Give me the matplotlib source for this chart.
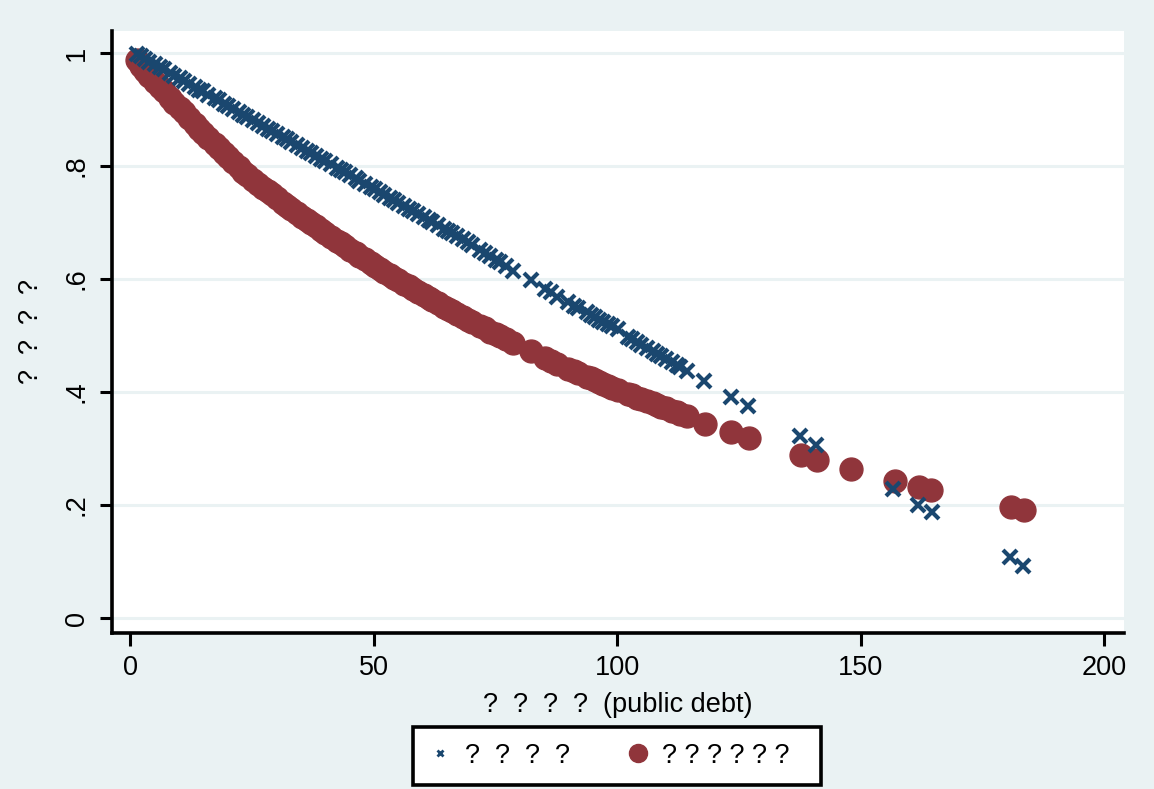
import matplotlib.pyplot as plt
from matplotlib.lines import Line2D

plt.rcParams['font.family'] = ['Liberation Sans', 'DejaVu Sans']

# ---------------------------------------------------------------
# Data
# ---------------------------------------------------------------
# dense part, shared x values (public debt)
debt = [1.4, 2.3, 3.1, 4.0, 5.2, 6.1, 7.0, 8.3, 9.1, 10.2, 11.0, 12.1, 13.3, 14.2,
        15.0, 16.1, 17.4, 18.2, 19.3, 20.1, 21.2, 22.4, 23.3, 24.1, 25.3, 26.2,
        27.4, 28.3, 29.1, 30.2, 31.4, 32.3, 33.1, 34.2, 35.4, 36.3, 37.1, 38.2,
        39.3, 40.1, 41.2, 42.4, 43.3, 44.1, 45.2, 46.3, 47.1, 48.2, 49.4, 50.3,
        51.3, 52.2, 53.4, 54.3, 55.1, 56.2, 57.3, 58.1, 59.2, 60.4, 61.3, 62.1,
        63.2, 64.4, 65.3, 66.1, 67.2, 68.3, 69.4, 70.2, 71.9, 72.8, 74.0, 75.1,
        76.0, 77.2, 78.6, 82.3, 85.2, 86.4, 87.7, 90.0, 91.2, 92.0, 93.8, 94.6,
        95.5, 96.4, 97.2, 98.1, 99.0, 100.2, 102.3, 103.1, 104.2, 105.0, 106.1,
        107.3, 108.2, 109.0, 110.1, 111.2, 112.3, 113.0, 114.4]

blue_y = [0.998, 0.994, 0.990, 0.985, 0.980, 0.975, 0.971, 0.964, 0.960, 0.955,
          0.951, 0.946, 0.940, 0.935, 0.932, 0.926, 0.920, 0.916, 0.910, 0.907,
          0.901, 0.895, 0.891, 0.887, 0.881, 0.877, 0.871, 0.866, 0.862, 0.857,
          0.851, 0.847, 0.843, 0.837, 0.832, 0.827, 0.823, 0.818, 0.812, 0.809,
          0.803, 0.797, 0.793, 0.789, 0.784, 0.778, 0.774, 0.769, 0.763, 0.759,
          0.754, 0.749, 0.743, 0.739, 0.735, 0.730, 0.724, 0.720, 0.715, 0.709,
          0.705, 0.701, 0.695, 0.689, 0.685, 0.681, 0.676, 0.670, 0.665, 0.661,
          0.651, 0.646, 0.640, 0.634, 0.630, 0.623, 0.615, 0.598, 0.582, 0.577,
          0.569, 0.559, 0.553, 0.548, 0.541, 0.537, 0.533, 0.528, 0.524, 0.520,
          0.516, 0.511, 0.497, 0.493, 0.488, 0.484, 0.478, 0.472, 0.468, 0.464,
          0.458, 0.453, 0.448, 0.444, 0.438]

red_y = [0.988, 0.977, 0.969, 0.960, 0.949, 0.940, 0.932, 0.920, 0.912, 0.902,
         0.895, 0.885, 0.874, 0.866, 0.859, 0.850, 0.839, 0.832, 0.823, 0.816,
         0.807, 0.798, 0.790, 0.784, 0.775, 0.769, 0.761, 0.755, 0.750, 0.743,
         0.735, 0.729, 0.724, 0.717, 0.710, 0.704, 0.699, 0.693, 0.686, 0.681,
         0.675, 0.668, 0.663, 0.658, 0.652, 0.646, 0.641, 0.635, 0.628, 0.623,
         0.618, 0.613, 0.607, 0.602, 0.598, 0.592, 0.587, 0.583, 0.577, 0.571,
         0.567, 0.563, 0.557, 0.551, 0.547, 0.543, 0.538, 0.533, 0.528, 0.524,
         0.517, 0.513, 0.507, 0.502, 0.499, 0.493, 0.487, 0.472, 0.460, 0.455,
         0.450, 0.441, 0.437, 0.434, 0.427, 0.424, 0.421, 0.417, 0.415, 0.411,
         0.408, 0.404, 0.397, 0.394, 0.390, 0.387, 0.384, 0.380, 0.377, 0.374,
         0.371, 0.367, 0.364, 0.361, 0.357]

# sparse tail
blue_tail_x = [117.9, 123.4, 126.9, 137.6, 140.9, 156.7, 161.8, 164.6, 180.7, 183.4]
blue_tail_y = [0.419, 0.391, 0.375, 0.322, 0.306, 0.228, 0.200, 0.188, 0.108, 0.092]
red_tail_x = [118.1, 123.4, 127.1, 137.8, 141.1, 148.0, 157.1, 162.0, 164.5, 180.9, 183.6]
red_tail_y = [0.343, 0.329, 0.319, 0.288, 0.280, 0.264, 0.242, 0.232, 0.227, 0.196, 0.191]

blue_label = '?  ?  ?  ?'
red_label = '? ? ? ? ? ?  '
xlabel = '?  ?  ?  ?  (public debt)'
ylabel = '?  ?  ?  ?'
yticks = [0, 0.2, 0.4, 0.6, 0.8, 1.0]
ytick_labels = ['0', '.2', '.4', '.6', '.8', '1']
xticks = [0, 50, 100, 150, 200]

navy = '#1A476F'
maroon = '#90353B'
bg = '#EAF2F3'

# ---------------------------------------------------------------
# Plot
# ---------------------------------------------------------------
fig = plt.figure(figsize=(11.54, 7.89), dpi=100)
fig.patch.set_facecolor(bg)
ax = fig.add_axes([112 / 1154, 1 - 633 / 789, 1012 / 1154, 602 / 789])
ax.set_facecolor('white')

ax.plot(debt + red_tail_x, red_y + red_tail_y, ls='', marker='o', ms=16.5,
        color=maroon, mec=maroon, zorder=3)
ax.plot(debt + blue_tail_x, blue_y + blue_tail_y, ls='', marker='x', ms=9.5,
        mew=3.0, color=navy, zorder=4)

ax.set_xlim(-3.7, 204.1)
ax.set_ylim(-0.0265, 1.039)
ax.set_xticks(xticks)
ax.set_yticks(yticks)
ax.set_yticklabels(ytick_labels, rotation=90, va='center')
ax.tick_params(axis='both', labelsize=19.5, width=2.2, length=9, color='black')
ax.tick_params(axis='x', pad=7)
ax.tick_params(axis='y', pad=7)

ax.grid(axis='y', color=bg, lw=2.2, zorder=0)
ax.set_axisbelow(True)

for s in ['top', 'right']:
    ax.spines[s].set_visible(False)
for s in ['left', 'bottom']:
    ax.spines[s].set_linewidth(2.6)

ax.set_xlabel(xlabel, fontsize=19.5, labelpad=8)
ax.set_ylabel(ylabel, fontsize=19.5, labelpad=14)

handles = [Line2D([], [], ls='', marker='x', ms=5, mew=2, color=navy),
           Line2D([], [], ls='', marker='o', ms=13, color=maroon)]
leg = fig.legend(handles, [blue_label, red_label], loc='upper center',
                 bbox_to_anchor=(617 / 1154, 1 - 713 / 789), ncol=2,
                 fontsize=19.5, frameon=True, fancybox=False, framealpha=1,
                 edgecolor='black', handlelength=0.8, handletextpad=0.5,
                 columnspacing=2.1, borderpad=0.6)
leg.get_frame().set_linewidth(2.6)

fig.savefig('out.png', dpi=100, facecolor=bg)
